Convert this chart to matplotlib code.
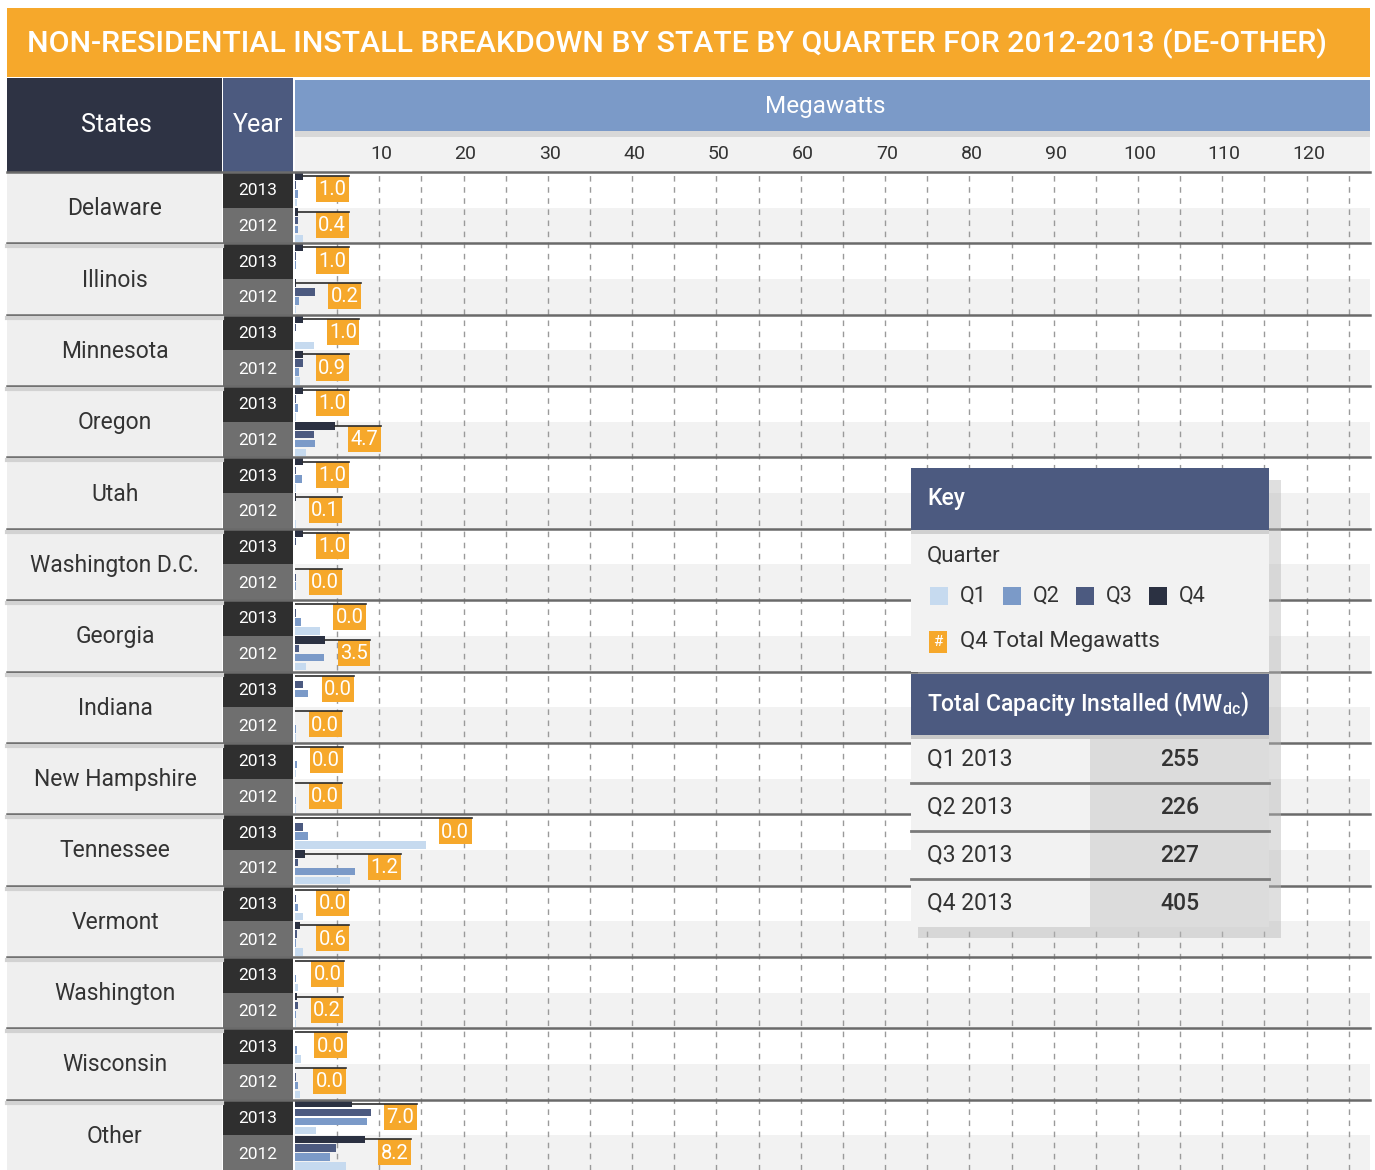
import matplotlib
matplotlib.use('Agg')
import matplotlib.pyplot as plt
from matplotlib.patches import Rectangle
import numpy as np

plt.rcParams['font.family'] = ['Roboto', 'DejaVu Sans']

# data, one entry per row: state 2013 then state 2012
states = ['Delaware', 'Illinois', 'Minnesota', 'Oregon', 'Utah', 'Washington D.C.', 'Georgia',
          'Indiana', 'New Hampshire', 'Tennessee', 'Vermont', 'Washington', 'Wisconsin', 'Other']
years = ['2013', '2012']

q4 = [0.9, 0.4, 0.9, 0.1, 0.9, 0.9, 0.9, 4.7, 0.9, 0.1, 0.9, 0.05, 0.05, 3.5,
      0.05, 0.05, 0.05, 0.05, 0.05, 1.2, 0.05, 0.6, 0.05, 0.2, 0.05, 0.05, 6.8, 8.3]
q3 = [0.1, 0.4, 0.1, 2.4, 0.1, 0.9, 0.1, 2.2, 0.1, 0.05, 0.1, 0.1, 0.1, 0.5,
      0.9, 0.05, 0.05, 0.05, 0.9, 0.4, 0.1, 0.2, 0.05, 0.3, 0.05, 0.1, 9.0, 4.9]
q2 = [0.3, 0.3, 0.1, 0.5, 0.05, 0.5, 0.4, 2.4, 0.8, 0.05, 0.05, 0.1, 0.7, 3.4,
      1.6, 0.1, 0.2, 0.1, 1.6, 7.1, 0.4, 0.1, 0.1, 0.1, 0.2, 0.4, 8.5, 4.2]
q1 = [0.2, 0.9, 0.05, 0.1, 2.2, 0.6, 0.1, 1.3, 0.1, 0.1, 0.05, 0.05, 3.0, 1.3,
      0.05, 0.1, 0.1, 0.1, 15.5, 6.5, 1.0, 1.0, 0.4, 0.1, 0.7, 0.6, 2.5, 6.0]
q4Total = [1.0, 0.4, 1.0, 0.2, 1.0, 0.9, 1.0, 4.7, 1.0, 0.1, 1.0, 0.0, 0.0, 3.5,
           0.0, 0.0, 0.0, 0.0, 0.0, 1.2, 0.0, 0.6, 0.0, 0.2, 0.0, 0.0, 7.0, 8.2]

xTicks = [10, 20, 30, 40, 50, 60, 70, 80, 90, 100, 110, 120]
keyQuarters = ['Q1', 'Q2', 'Q3', 'Q4']
capacityLabels = ['Q1 2013', 'Q2 2013', 'Q3 2013', 'Q4 2013']
capacityValues = [255, 226, 227, 405]

orange = '#F6A82B'
qColors = ['#C6DAEF', '#7B9AC8', '#4C5A80', '#2B3142']
textDark = '#333333'

W, H = 1375, 1170
plotLeft, plotRight = 295, 1370
top0 = 172
rowH = (H - top0 + 1) / 28.0
pxPerUnit = 8.43

fig = plt.figure(figsize=(W / 100, H / 100), dpi=100)
fig.patch.set_facecolor('white')

bg = fig.add_axes([0, 0, 1, 1])
bg.set_xlim(0, W); bg.set_ylim(H, 0); bg.axis('off')


def box(axx, x0, y0, x1, y1, color, z=1, alpha=1.0):
    axx.add_patch(Rectangle((x0, y0), x1 - x0, y1 - y0, facecolor=color,
                            edgecolor='none', zorder=z, alpha=alpha))


# title band
box(bg, 7, 8, 1370, 77, orange)
bg.text(677, 44, 'NON-RESIDENTIAL INSTALL BREAKDOWN BY STATE BY QUARTER FOR 2012-2013 (DE-OTHER)',
        color='white', fontsize=21.8, fontweight='medium', ha='center', va='center')

# header
box(bg, 7, 78, 222, top0, '#2E3344')
box(bg, 223, 78, 293, top0, '#4C5A7F')
box(bg, plotLeft, 80, plotRight, 131, '#7B9AC8')
box(bg, plotLeft, 131, plotRight, 137, '#D8D8D8')
box(bg, plotLeft, 137, plotRight, top0, '#F2F2F2')
bg.text(116, 125, 'States', color='white', fontsize=18, ha='center', va='center')
bg.text(258, 125, 'Year', color='white', fontsize=18, ha='center', va='center')
bg.text(825, 106, 'Megawatts', color='white', fontsize=17.5, ha='center', va='center')
for t in xTicks:
    bg.text(plotLeft + t * pxPerUnit + 2, 154, str(t), color=textDark, fontsize=14,
            ha='center', va='center')

# row backgrounds, year cells, state cells
box(bg, 7, top0, 222, H, '#EFEFEF')
for i in range(28):
    y0 = top0 + i * rowH
    if i % 2 == 1:
        box(bg, plotLeft, y0, plotRight, y0 + rowH, '#F2F2F2')
    box(bg, 223, y0, 293, y0 + rowH, '#2F2F2F' if i % 2 == 0 else '#6F6F6F')
    bg.text(258, y0 + rowH / 2 + 1, years[i % 2], color='white', fontsize=12.5,
            ha='center', va='center')
for k, s in enumerate(states):
    bg.text(115, top0 + (2 * k + 1) * rowH + 1, s, color=textDark, fontsize=16.5,
            ha='center', va='center')

# bars
ax = fig.add_axes([plotLeft / W, 0, (plotRight - plotLeft) / W, (H - top0) / H])
ax.set_xlim(0, (plotRight - plotLeft) / pxPerUnit)
ax.set_ylim((H - top0) / rowH, 0)
ax.axis('off')
ax.patch.set_alpha(0)

for v in np.arange(5, 130, 5):
    ax.axvline(v, color='#9A9A9A', lw=1, ls=(0, (4, 4)), zorder=0)

rows = np.arange(28)
offsets = [0.86, 0.61, 0.36, 0.115]
for vals, c, off in zip([q1, q2, q3, q4], qColors, offsets):
    ax.barh(rows + off, vals, height=0.21, color=c, zorder=2)

labelW = 3.9
for i in rows:
    left = max(q1[i], q2[i], q3[i], q4[i]) + 1.55
    ax.add_patch(Rectangle((left, i + 0.115), labelW, 0.73, facecolor=orange,
                           edgecolor='none', zorder=3))
    ax.plot([q4[i], left + labelW], [i + 0.115, i + 0.115], color='#2B2B2B', lw=1.2, zorder=4)
    ax.text(left + labelW / 2, i + 0.5, '%.1f' % q4Total[i], color='white', fontsize=14.5,
            ha='center', va='center', zorder=5)

# separators and key panel
top = fig.add_axes([0, 0, 1, 1])
top.set_xlim(0, W); top.set_ylim(H, 0); top.axis('off')
top.patch.set_alpha(0)
for k in range(15):
    y = top0 + k * 2 * rowH
    top.plot([7, plotRight], [y, y], color='#6A6A6A', lw=1.8, zorder=1)
    if 0 < k < 14:
        top.plot([7, 222], [y + 3, y + 3], color='#D2D2D2', lw=3, zorder=1)

box(top, 918, 480, 1281, 938, '#B8B8B8', z=5, alpha=0.45)
box(top, 911, 468, 1269, 530, '#4C5A80', z=6)
box(top, 911, 530, 1269, 672, '#F2F2F2', z=6)
box(top, 911, 530, 1269, 534, '#D0D0D0', z=7)
top.text(927, 499, 'Key', color='white', fontsize=16.5, fontweight='medium', ha='left', va='center', zorder=8)
top.text(927, 556, 'Quarter', color=textDark, fontsize=16, ha='left', va='center', zorder=8)
for j, q in enumerate(keyQuarters):
    sx = 930 + j * 73
    box(top, sx, 587, sx + 18, 605, qColors[j], z=7)
    top.text(sx + 30, 596, q, color=textDark, fontsize=15.5, ha='left', va='center', zorder=8)
box(top, 929, 631, 947, 653, orange, z=7)
top.text(938, 642, '#', color='white', fontsize=11, ha='center', va='center', zorder=8)
top.text(960, 642, 'Q4 Total Megawatts', color=textDark, fontsize=16, ha='left', va='center', zorder=8)

box(top, 911, 674, 1269, 735, '#4C5A80', z=6)
top.text(927, 704, r'Total Capacity Installed (MW$_{\mathregular{dc}}$)', color='white', fontsize=16.5,
         fontweight='medium', ha='left', va='center', zorder=8)
box(top, 911, 735, 1090, 927, '#F2F2F2', z=6)
box(top, 1090, 735, 1269, 927, '#DCDCDC', z=6)
box(top, 911, 735, 1269, 739, '#C8C8C8', z=7)
for j, (lab, val) in enumerate(zip(capacityLabels, capacityValues)):
    cy = 735 + j * 48 + 24
    if j > 0:
        top.plot([911, 1269], [735 + j * 48, 735 + j * 48], color='#7A7A7A', lw=2, zorder=7)
    top.text(927, cy, lab, color=textDark, fontsize=16.5, ha='left', va='center', zorder=8)
    top.text(1180, cy, str(val), color=textDark, fontsize=16.5, fontweight='medium',
             ha='center', va='center', zorder=8)

fig.savefig('out.png', dpi=100)
